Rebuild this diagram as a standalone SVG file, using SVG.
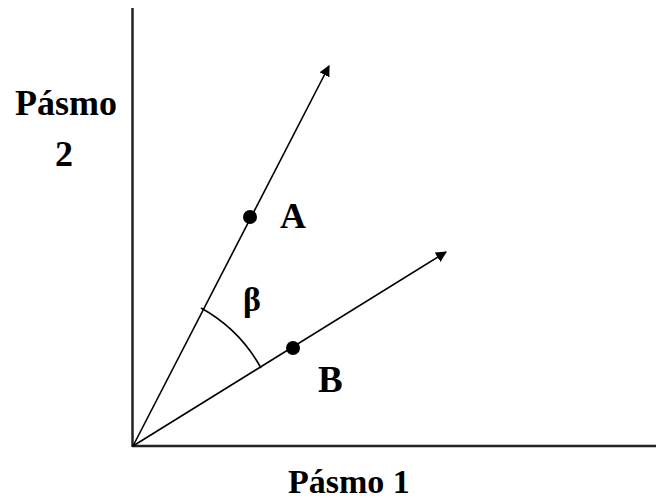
<svg xmlns="http://www.w3.org/2000/svg" width="662" height="499" viewBox="0 0 662 499">
<style>
.t{font-family:"Liberation Serif","Times New Roman",serif;font-weight:bold;fill:#000}
.ax{stroke:#222;stroke-width:2.5;fill:none}
.v{stroke:#000;stroke-width:1.6;fill:none}
</style>
<defs>
<marker id="ah" viewBox="0 0 10 10" refX="9" refY="5" markerWidth="11" markerHeight="11" markerUnits="userSpaceOnUse" orient="auto">
<path d="M0,0 L10,5 L0,10 z" fill="#000"/>
</marker>
</defs>
<rect width="662" height="499" fill="#fff"/>
<g id="axes">
<line class="ax" x1="132.5" y1="8" x2="132.5" y2="447"/>
<line class="ax" x1="132" y1="446" x2="656" y2="446"/>
</g>
<g id="connectors">
<line class="v" x1="133" y1="446" x2="329" y2="66" marker-end="url(#ah)"/>
<line class="v" x1="133" y1="446" x2="446" y2="252" marker-end="url(#ah)"/>
<path class="v" d="M201,308 A152,152 0 0 1 261,368"/>
</g>
<g id="pointA"><circle cx="250" cy="217" r="7" fill="#000"/></g>
<g id="pointB"><circle cx="293" cy="348" r="7" fill="#000"/></g>
<g id="labels">
<text class="t" x="15" y="115" font-size="36">Pásmo</text>
<text class="t" x="55" y="166" font-size="36">2</text>
<text class="t" x="280" y="228" font-size="36">A</text>
<text class="t" x="318" y="392" font-size="37">B</text>
<text class="t" x="243" y="311" font-size="34">β</text>
<text class="t" x="288" y="493" font-size="34">Pásmo 1</text>
</g>
</svg>
